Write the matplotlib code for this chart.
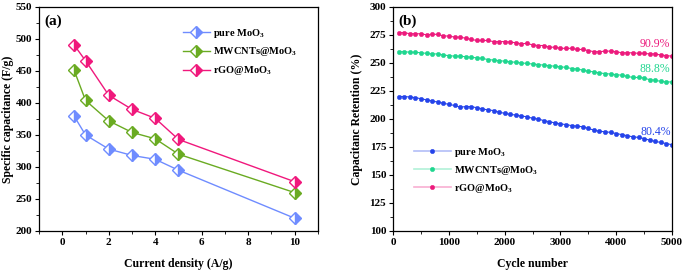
import matplotlib
matplotlib.use("Agg")
import matplotlib.pyplot as plt
from matplotlib.ticker import MultipleLocator
from matplotlib.colors import to_rgba

plt.rcParams['font.family'] = ['Liberation Serif', 'DejaVu Serif']
plt.rcParams['font.weight'] = 'bold'
plt.rcParams['mathtext.fontset'] = 'custom'
plt.rcParams['mathtext.rm'] = 'Liberation Serif:bold'

# (a) rate capability
density = [0.5, 1, 2, 3, 4, 5, 10]
cap_pure = [380, 350, 328, 318, 312, 295, 220]
cap_mwcnt = [452, 404, 372, 354, 344, 320, 260]
cap_rgo = [491, 466, 412, 390, 376, 343, 277]

# (b) cycling
cycles = list(range(100, 5001, 100))
ret_pure = [220, 220, 219.5, 219, 218, 217, 216, 215, 214, 213,
            212, 210.5, 211, 211, 210, 209, 208, 207.5, 206, 205,
            204, 203.5, 202.5, 202, 200.5, 200, 198.5, 197.5, 196.5, 195.5,
            195, 194, 193.5, 193, 191.5, 190, 189, 188.5, 188, 187,
            186, 185, 184, 183.5, 182.5, 181, 180, 179, 178, 177]
ret_mwcnt = [260, 260, 259.5, 259.5, 259, 258.5, 258, 258, 257, 256.5,
             256, 256, 255.5, 255, 254.5, 254, 253, 252.5, 252, 251.5,
             251, 250.5, 250, 249.5, 249, 248.5, 248, 247.5, 247, 246.5,
             246, 245, 244.5, 243.5, 242.5, 242, 241, 240.5, 240, 239.5,
             239, 238, 237, 237, 236.5, 235, 234.5, 233.5, 233, 233]
ret_rgo = [277, 277, 276, 276, 276, 275, 275.5, 275.5, 274, 274,
           273, 273, 272, 271, 270, 270, 270, 269, 269, 269,
           268.5, 268, 267, 267.5, 266, 265.5, 265.5, 264, 264, 263,
           263, 263, 262, 262, 261, 260, 260, 260.5, 260.5, 260,
           259, 259, 259, 258.5, 258.5, 258, 258, 257, 256.5, 256]

labels = ['pure MoO$_3$', 'MWCNTs@MoO$_3$', 'rGO@MoO$_3$']
colors_a = ['#6f8cff', '#6aab22', '#f0187c']
colors_b = ['#2443ea', '#1fd68f', '#ec1a7c']
retention = ['80.4%', '88.8%', '90.9%']

fig = plt.figure(figsize=(6.85, 2.75), dpi=100)
ax1 = fig.add_axes([0.057, 0.16, 0.407, 0.815])
ax2 = fig.add_axes([0.574, 0.16, 0.407, 0.815])

for y, c, lab in zip([cap_pure, cap_mwcnt, cap_rgo], colors_a, labels):
    ax1.plot(density, y, color=c, lw=1.0, marker='D', ms=6,
             fillstyle='right', markerfacecoloralt='white',
             markeredgecolor=c, markerfacecolor=c, label=lab)
ax1.set_xlim(-1, 11)
ax1.set_ylim(200, 550)
ax1.xaxis.set_major_locator(MultipleLocator(2))
ax1.xaxis.set_minor_locator(MultipleLocator(1))
ax1.yaxis.set_major_locator(MultipleLocator(50))
ax1.yaxis.set_minor_locator(MultipleLocator(25))
ax1.set_xlabel('Current density (A/g)', fontsize=8.5, fontweight='bold', labelpad=8)
ax1.set_ylabel('Specific capacitance (F/g)', fontsize=8.5, fontweight='bold')
ax1.yaxis.set_label_coords(-0.09, 0.5)
ax1.text(0.02, 0.92, '(a)', transform=ax1.transAxes, fontsize=11, fontweight='bold')
ax1.legend(loc='upper left', bbox_to_anchor=(0.5, 0.93), frameon=False,
           fontsize=7.5, handlelength=2.6, labelspacing=0.55, handletextpad=0.3,
           borderaxespad=0)

for y, c, lab in zip([ret_pure, ret_mwcnt, ret_rgo], colors_b, labels):
    ax2.plot(cycles, y, color=c, lw=0.8, marker='o', ms=3.2,
             markeredgewidth=0.3, markeredgecolor=c, label=lab)
ax2.set_xlim(0, 5000)
ax2.set_ylim(100, 300)
ax2.xaxis.set_major_locator(MultipleLocator(1000))
ax2.xaxis.set_minor_locator(MultipleLocator(500))
ax2.yaxis.set_major_locator(MultipleLocator(25))
ax2.yaxis.set_minor_locator(MultipleLocator(12.5))
ax2.set_xlabel('Cycle number', fontsize=8.5, fontweight='bold', labelpad=8)
ax2.set_ylabel('Capacitanc Retention (%)', fontsize=8.5, fontweight='bold')
ax2.yaxis.set_label_coords(-0.11, 0.5)
ax2.text(0.02, 0.92, '(b)', transform=ax2.transAxes, fontsize=11, fontweight='bold')
for txt, yv, c in zip(retention, [ret_pure[-1], ret_mwcnt[-1], ret_rgo[-1]], colors_b):
    ax2.text(4700, yv + 8.5, txt, color=c, fontsize=8.5, ha='center', fontweight='normal')
leg = ax2.legend(loc='upper left', bbox_to_anchor=(0.06, 0.40), frameon=False,
                 fontsize=7.5, handlelength=3.5, labelspacing=0.5, handletextpad=0.3,
                 borderaxespad=0)
for line, c in zip(leg.get_lines(), colors_b):
    line.set_color(to_rgba(c, 0.35))
    line.set_markerfacecolor(c)
    line.set_markeredgecolor(c)
    line.set_linewidth(1.2)

for ax in (ax1, ax2):
    ax.tick_params(which='both', direction='out', top=False, right=False,
                   labelsize=8, pad=2)
    ax.tick_params(which='major', length=3, width=0.8)
    ax.tick_params(which='minor', length=2, width=0.6)
    for s in ax.spines.values():
        s.set_linewidth(0.9)
    for t in ax.get_xticklabels() + ax.get_yticklabels():
        t.set_fontweight('bold')

fig.savefig('out.png', dpi=100)
